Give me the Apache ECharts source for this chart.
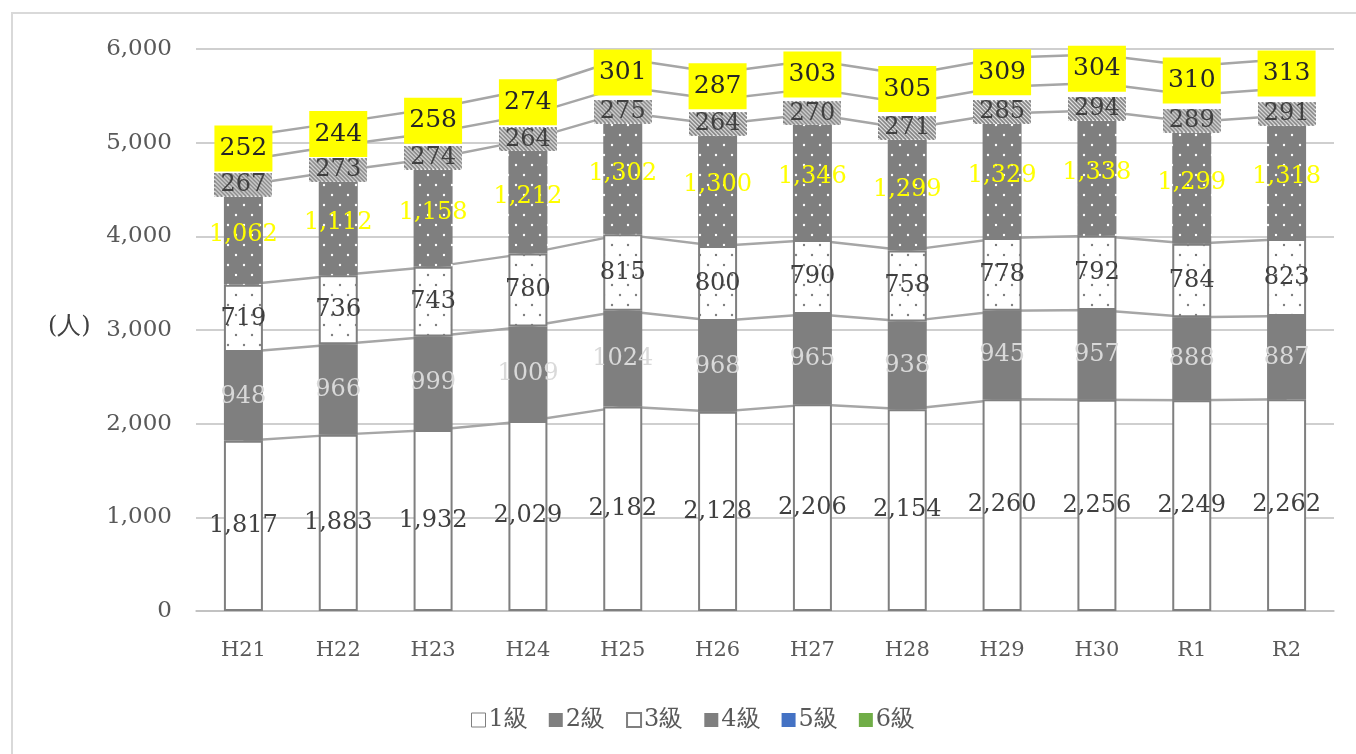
<!DOCTYPE html>
<html>
<head>
<meta charset="utf-8">
<script src="https://cdn.jsdelivr.net/npm/echarts@6/dist/echarts.min.js"></script>
<style>html,body{margin:0;padding:0;background:#fff}#c{width:1356px;height:754px}</style>
</head>
<body>
<div id="c"></div>
<script>
const categories = ['H21','H22','H23','H24','H25','H26','H27','H28','H29','H30','R1','R2'];
const grade1 = [1817,1883,1932,2029,2182,2128,2206,2154,2260,2256,2249,2262];
const grade2 = [948,966,999,1009,1024,968,965,938,945,957,888,887];
const grade3 = [719,736,743,780,815,800,790,758,778,792,784,823];
const grade4 = [1062,1112,1158,1212,1302,1300,1346,1299,1329,1338,1299,1318];
const grade5 = [267,273,274,264,275,264,270,271,285,294,289,291];
const grade6 = [252,244,258,274,301,287,303,305,309,304,310,313];
const seriesNames = ['1級','2級','3級','4級','5級','6級'];

function makeDots(bg, dot) {
  const c = document.createElement('canvas');
  c.width = 16; c.height = 20;
  const g = c.getContext('2d');
  g.fillStyle = bg; g.fillRect(0,0,16,20);
  g.fillStyle = dot;
  [[4,5],[12,15]].forEach(([x,y]) => { g.beginPath(); g.arc(x,y,1.2,0,Math.PI*2); g.fill(); });
  return c;
}
function makeHatch(w, h) {
  const c = document.createElement('canvas');
  c.width = w; c.height = h;
  const g = c.getContext('2d');
  g.fillStyle = '#ffffff'; g.fillRect(0,0,w,h);
  g.strokeStyle = '#808080'; g.lineWidth = 1.8;
  for (let i = -h; i < w + h; i += 4) {
    g.beginPath(); g.moveTo(i,0); g.lineTo(i+h,h); g.stroke();
  }
  return c;
}
const fmt = v => v.toString().replace(/\B(?=(\d{3})+(?!\d))/g, ',');
const FONT = 'DejaVu Serif';
const dots3 = makeDots('#ffffff', '#7f7f7f');
const dots4 = makeDots('#7f7f7f', '#ffffff');
const hatch = makeHatch(58, 24);

const stacks = [grade1, grade2, grade3, grade4, grade5, grade6];
const cum = [];
let run = categories.map(() => 0);
stacks.forEach(s => { run = run.map((v,i) => v + s[i]); cum.push(run.slice()); });

const baseLabel = { show: true, position: 'inside', fontSize: 24, fontFamily: FONT, formatter: p => fmt(p.value) };
const bars = [
  { name: '1級', data: grade1, itemStyle: { color: '#ffffff', borderColor: '#7f7f7f', borderWidth: 2 },
    label: Object.assign({}, baseLabel, { color: '#404040' }) },
  { name: '2級', data: grade2, itemStyle: { color: '#7f7f7f' },
    label: Object.assign({}, baseLabel, { color: '#d9d9d9', formatter: p => String(p.value) }) },
  { name: '3級', data: grade3, itemStyle: { color: { image: dots3, repeat: 'repeat' }, borderColor: '#7f7f7f', borderWidth: 2 },
    label: Object.assign({}, baseLabel, { color: '#404040' }) },
  { name: '4級', data: grade4, itemStyle: { color: { image: dots4, repeat: 'repeat' } },
    label: Object.assign({}, baseLabel, { color: '#ffff00' }) },
  { name: '5級', data: grade5, itemStyle: { color: '#ffffff' },
    label: Object.assign({}, baseLabel, { color: '#404040', offset: [0, 12], width: 58, height: 24, lineHeight: 24, align: 'center',
      backgroundColor: { image: hatch } }) },
  { name: '6級', data: grade6, itemStyle: { color: '#ffffff' },
    label: Object.assign({}, baseLabel, { color: '#262626', fontSize: 25, width: 58, height: 46, lineHeight: 46, align: 'center',
      backgroundColor: '#ffff00' }) }
].map(s => Object.assign({ type: 'bar', stack: 'a', barWidth: 39, z: 2 }, s));

const lines = cum.map((d, k) => ({
  name: 'line' + k, type: 'line', data: d, symbol: 'none', silent: true, z: 1,
  lineStyle: { color: '#a6a6a6', width: 2.5 }, emphasis: { disabled: true }
}));

const chart = echarts.init(document.getElementById('c'));
chart.setOption({
  animation: false,
  backgroundColor: '#ffffff',
  grid: { left: 196, right: 22, top: 49, bottom: 143 },
  xAxis: {
    type: 'category', data: categories,
    axisLine: { lineStyle: { color: '#bfbfbf', width: 1.5 } },
    axisTick: { show: false },
    axisLabel: { color: '#595959', fontSize: 21, fontFamily: FONT, margin: 29 }
  },
  yAxis: {
    type: 'value', min: 0, max: 6000, interval: 1000,
    axisLine: { show: false }, axisTick: { show: false },
    splitLine: { lineStyle: { color: '#bfbfbf', width: 1.5 } },
    axisLabel: { color: '#595959', fontSize: 23, fontFamily: FONT, margin: 24, formatter: v => fmt(v) }
  },
  legend: {
    data: [
      { name: '1級', itemStyle: { color: '#ffffff', borderColor: '#7f7f7f', borderWidth: 1 } },
      { name: '2級', itemStyle: { color: '#7f7f7f' } },
      { name: '3級', itemStyle: { color: '#ffffff', borderColor: '#7f7f7f', borderWidth: 2 } },
      { name: '4級', itemStyle: { color: '#7f7f7f' } },
      { name: '5級', itemStyle: { color: '#4472c4' } },
      { name: '6級', itemStyle: { color: '#70ad47' } }
    ],
    left: 466, top: 703, itemWidth: 14, itemHeight: 14, itemGap: 21, icon: 'rect',
    textStyle: { color: '#595959', fontSize: 24, fontFamily: FONT, padding: [0,0,0,-2] }
  },
  graphic: [
    { type: 'rect', shape: { x: 12, y: 13, width: 1360, height: 760 }, style: { fill: 'none', stroke: '#d9d9d9', lineWidth: 2 }, silent: true },
    { type: 'text', left: 48, top: 315, style: { text: '(人)', fontSize: 24, fontFamily: FONT, fill: '#404040' } }
  ],
  series: lines.concat(bars)
});
</script>
</body>
</html>
